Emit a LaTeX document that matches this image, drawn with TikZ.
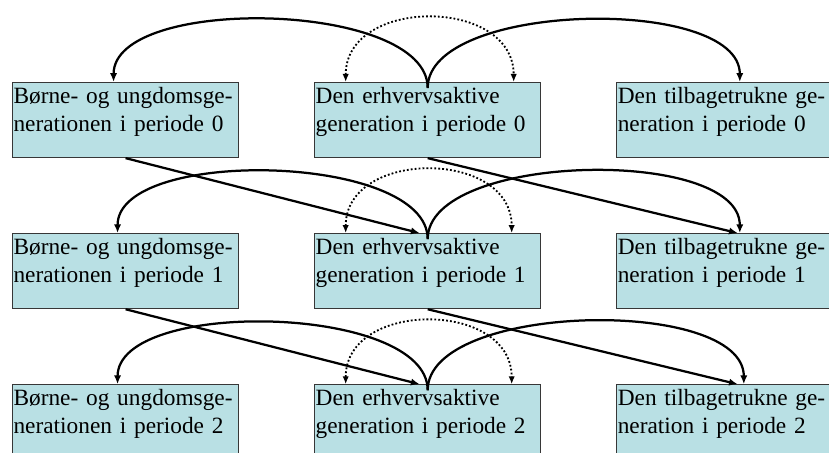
\documentclass[tikz,border=0pt]{standalone}
\usepackage{fontspec}
\setmainfont{Liberation Serif}
\usetikzlibrary{positioning,arrows.meta}
\definecolor{boxfill}{RGB}{185,224,228}
\definecolor{boxline}{RGB}{55,55,55}

\begin{document}
\begin{tikzpicture}[node distance=1.875cm,
  gen/.style={draw=boxline, line width=0.8pt, fill=boxfill, inner xsep=0.025cm, inner ysep=0pt,
    text width=5.6cm, align=left, text height=0.525cm, text depth=1.35cm,
    font=\fontsize{16.6}{20}\selectfont},
  gives/.style={line width=1.6pt, -{Latex[length=2.2mm,width=1.8mm]}},
  shares/.style={line width=1.3pt, dash pattern=on 1.3pt off 1.5pt,
    {Latex[length=2mm,width=1.6mm]}-{Latex[length=2mm,width=1.6mm]}}]
\path[use as bounding box, clip] (0,0) rectangle (20.725,-11.325);
\node[gen, anchor=north west] (u0) at (0.3,-2.05) {Børne- og ungdomsge-\\nerationen i periode 0};
\node[gen, right=of u0] (e0) {Den erhvervsaktive\\generation i periode 0};
\node[gen, right=of e0] (t0) {Den tilbagetrukne ge-\\neration i periode 0};
\node[gen, below=of u0] (u1) {Børne- og ungdomsge-\\nerationen i periode 1};
\node[gen, right=of u1] (e1) {Den erhvervsaktive\\generation i periode 1};
\node[gen, right=of e1] (t1) {Den tilbagetrukne ge-\\neration i periode 1};
\node[gen, below=of u1] (u2) {Børne- og ungdomsge-\\nerationen i periode 2};
\node[gen, right=of u2] (e2) {Den erhvervsaktive\\generation i periode 2};
\node[gen, right=of e2] (t2) {Den tilbagetrukne ge-\\neration i periode 2};

% period 0
\draw[shares] ([xshift=-2.05cm]e0.north) to[out=90, in=90, looseness=1.3] ([xshift=2.15cm]e0.north);
\draw[gives] ([yshift=-0.15cm]e0.north) to[out=90, in=90, looseness=0.71] ([xshift=-0.3cm]u0.north);
\draw[gives] ([yshift=-0.15cm]e0.north) to[out=90, in=90, looseness=0.71] ([xshift=0.25cm]t0.north);

% period 1
\draw[shares] ([xshift=-2.05cm]e1.north) to[out=90, in=90, looseness=1.3] ([xshift=2.1cm]e1.north);
\draw[gives] ([yshift=-0.15cm]e1.north) to[out=90, in=90, looseness=0.71] ([xshift=-0.2cm]u1.north);
\draw[gives] ([yshift=-0.15cm]e1.north) to[out=90, in=90, looseness=0.71] ([xshift=0.25cm]t1.north);
\draw[gives] (u0.south) -- ([xshift=-0.2cm]e1.north);
\draw[gives] (e0.south) -- ([xshift=0.2cm]t1.north);

% period 2
\draw[shares] ([xshift=-2.05cm]e2.north) to[out=90, in=90, looseness=1.3] ([xshift=2.1cm]e2.north);
\draw[gives] ([yshift=-0.15cm]e2.north) to[out=90, in=90, looseness=0.71] ([xshift=-0.2cm]u2.north);
\draw[gives] ([yshift=-0.15cm]e2.north) to[out=90, in=90, looseness=0.71] ([xshift=0.35cm]t2.north);
\draw[gives] (u1.south) -- ([xshift=-0.2cm]e2.north);
\draw[gives] (e1.south) -- ([xshift=0.2cm]t2.north);
\end{tikzpicture}
\end{document}
